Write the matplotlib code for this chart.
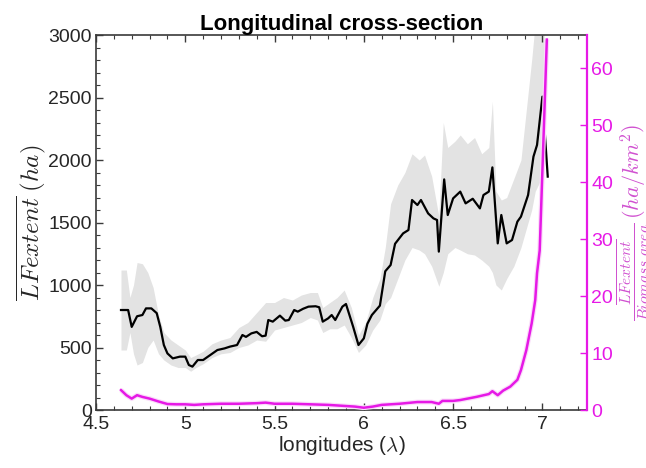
import matplotlib
matplotlib.use("Agg")
import matplotlib.pyplot as plt
from matplotlib.ticker import MultipleLocator

plt.rcParams['font.family'] = ['Liberation Sans', 'DejaVu Sans']
plt.rcParams['mathtext.fontset'] = 'cm'

# --- mean landslide extent (left axis) ---
lon = [4.64, 4.68, 4.70, 4.73, 4.76, 4.78, 4.81, 4.84, 4.86, 4.88, 4.90, 4.93, 4.97, 5.00,
       5.02, 5.04, 5.07, 5.10, 5.14, 5.18, 5.22, 5.25, 5.29, 5.32, 5.34, 5.37, 5.40, 5.43,
       5.45, 5.465, 5.49, 5.53, 5.56, 5.58, 5.61, 5.63, 5.66, 5.69, 5.73, 5.75, 5.77, 5.80,
       5.82, 5.84, 5.88, 5.90, 5.94, 5.97, 6.00, 6.02, 6.045, 6.09, 6.12, 6.15, 6.175, 6.22,
       6.25, 6.27, 6.30, 6.32, 6.36, 6.39, 6.41, 6.42, 6.45, 6.47, 6.50, 6.54, 6.57, 6.61,
       6.65, 6.67, 6.70, 6.72, 6.75, 6.77, 6.80, 6.83, 6.86, 6.88, 6.92, 6.95, 6.97, 7.00, 7.03]
lf_mean = [800, 800, 665, 750, 760, 813, 813, 775, 665, 520, 453, 413, 427, 427,
           360, 347, 400, 400, 440, 480, 493, 507, 520, 600, 585, 613, 625, 590,
           595, 720, 707, 755, 715, 720, 800, 787, 810, 827, 830, 822, 707, 733,
           760, 720, 827, 848, 667, 520, 573, 690, 760, 835, 1110, 1160, 1330, 1413,
           1440, 1680, 1640, 1680, 1573, 1533, 1520, 1267, 1845, 1560, 1693, 1747, 1653, 1690,
           1613, 1720, 1747, 1941, 1333, 1560, 1333, 1360, 1507, 1547, 1720, 2027, 2120, 2507, 1867]

# --- spread band (left axis) ---
band_lon = [4.64, 4.67, 4.69, 4.71, 4.73, 4.76, 4.79, 4.82, 4.85, 4.88, 4.92, 4.96, 5.00, 5.03,
            5.06, 5.10, 5.15, 5.20, 5.25, 5.30, 5.35, 5.40, 5.45, 5.50, 5.55, 5.60, 5.65, 5.70,
            5.74, 5.77, 5.81, 5.85, 5.89, 5.93, 5.97, 6.01, 6.05, 6.09, 6.12, 6.15, 6.19, 6.23,
            6.27, 6.31, 6.34, 6.38, 6.42, 6.445, 6.47, 6.51, 6.54, 6.58, 6.62, 6.66, 6.70, 6.72,
            6.74, 6.77, 6.80, 6.84, 6.88, 6.91, 6.94, 6.96, 7.01]
band_low = [480, 480, 620, 450, 360, 380, 500, 560, 450, 400, 360, 340, 340, 310,
            340, 370, 420, 450, 460, 500, 520, 560, 550, 640, 660, 680, 700, 740,
            720, 620, 650, 650, 680, 580, 460, 520, 640, 720, 850, 900, 1050, 1200,
            1300, 1280, 1250, 1150, 990, 1100, 1250, 1300, 1280, 1250, 1240, 1200, 1150, 1100,
            1000, 960, 1050, 1150, 1300, 1450, 1600, 1750, 1900]
band_high = [1120, 1120, 900, 1000, 1180, 1170, 1100, 980, 760, 620, 560, 520, 480, 420,
             440, 470, 530, 560, 580, 660, 700, 780, 860, 860, 900, 880, 920, 940,
             940, 820, 860, 900, 960, 820, 600, 700, 900, 1050, 1300, 1650, 1800, 1900,
             2050, 2000, 2040, 1870, 1550, 2300, 2100, 2150, 2200, 2130, 2180, 2050, 2100, 2470,
             1750, 1680, 1700, 1850, 2000, 2400, 2800, 3100, 3100]

# --- extent per biomass area (right axis) ---
ratio_lon = [4.64, 4.67, 4.70, 4.73, 4.76, 4.80, 4.85, 4.90, 4.95, 5.00, 5.05, 5.10, 5.20, 5.30,
             5.40, 5.45, 5.50, 5.60, 5.70, 5.80, 5.90, 5.95, 6.00, 6.05, 6.10, 6.20, 6.30, 6.38,
             6.42, 6.44, 6.50, 6.54, 6.63, 6.70, 6.72, 6.75, 6.78, 6.82, 6.86, 6.88, 6.91, 6.94,
             6.96, 6.97, 6.985, 7.025]
ratio_mean = [3.5, 2.6, 2.0, 2.6, 2.3, 2.0, 1.5, 1.05, 1.0, 1.0, 0.9, 1.0, 1.1, 1.1,
              1.2, 1.3, 1.1, 1.1, 1.0, 0.9, 0.7, 0.6, 0.4, 0.6, 0.9, 1.1, 1.4, 1.4,
              1.1, 1.6, 1.6, 1.75, 2.3, 2.8, 3.3, 2.6, 3.4, 4.1, 5.3, 7.0, 10.5, 15.2,
              19.3, 24, 28, 65]

x_ticks = [4.5, 5, 5.5, 6, 6.5, 7]
x_ticklabels = ['4.5', '5', '5.5', '6', '6.5', '7']
left_ticks = [0, 500, 1000, 1500, 2000, 2500, 3000]
right_ticks = [0, 10, 20, 30, 40, 50, 60]

MAG = '#E619E6'
AX = '#3a3a3a'

fig = plt.figure(figsize=(6.46, 4.68), dpi=100)
ax = fig.add_axes([0.1486, 0.1239, 0.7601, 0.8013])

ax.fill_between(band_lon, band_low, band_high, color='#e3e3e3', lw=0, zorder=1)
ax.plot(lon, lf_mean, color='black', lw=1.6, zorder=3)
ax.set_xlim(4.5, 7.25)
ax.set_ylim(0, 3000)
ax.set_xticks(x_ticks)
ax.set_xticklabels(x_ticklabels)
ax.set_yticks(left_ticks)
ax.xaxis.set_minor_locator(MultipleLocator(0.1))
ax.yaxis.set_minor_locator(MultipleLocator(100))
ax.tick_params(which='both', direction='in', top=True, right=False, colors=AX,
               labelcolor='#262626', labelsize=14)
ax.tick_params(which='major', length=5, width=1)
ax.tick_params(which='minor', length=3, width=0.8)
ax.tick_params(axis='x', pad=4)
ax.tick_params(axis='y', pad=3)
for s in ['left', 'bottom', 'top']:
    ax.spines[s].set_color(AX)
    ax.spines[s].set_linewidth(1.2)
ax.spines['right'].set_visible(False)

ax.set_xlabel(r'longitudes ($\lambda$)', fontsize=15, color='#262626', labelpad=1)
ax.set_ylabel(r'$\overline{LFextent}\;(ha)$', fontsize=18, color='#262626', labelpad=0)
ax.set_title('Longitudinal cross-section', fontsize=16, fontweight='bold', pad=2)

ax2 = ax.twinx()
ax2.plot(ratio_lon, ratio_mean, color='#fadcfa', lw=3.5, zorder=2, solid_capstyle='butt')
ax2.plot(ratio_lon, ratio_mean, color=MAG, lw=1.8, zorder=3)
ax2.set_ylim(0, 65.8)
ax2.set_yticks(right_ticks)
ax2.tick_params(axis='y', direction='in', length=5, width=1, colors=MAG,
                labelcolor=MAG, labelsize=14, pad=3)
ax2.yaxis.set_minor_locator(plt.NullLocator())
for s in ['left', 'bottom', 'top']:
    ax2.spines[s].set_visible(False)
ax2.spines['right'].set_color(MAG)
ax2.spines['right'].set_linewidth(1.6)
ax2.set_ylabel(r'$\frac{\overline{LFextent}}{Biomass\ area}\,(ha/km^2)$',
               fontsize=16, color='#d050d0', labelpad=2)

fig.savefig('out.png', dpi=100)
